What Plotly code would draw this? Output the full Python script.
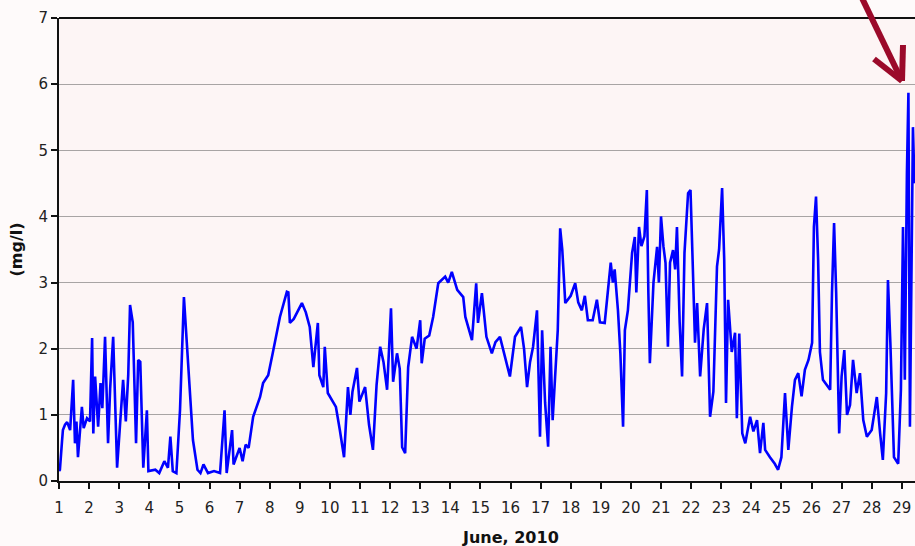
import plotly.graph_objects as go

# ---- data ----
day = [1.00, 1.03, 1.10, 1.13, 1.20, 1.27, 1.37, 1.47, 1.53, 1.58, 1.63, 1.70, 1.76, 1.82, 1.93,
       2.03, 2.10, 2.14, 2.20, 2.30, 2.38, 2.44, 2.53, 2.63, 2.70, 2.80, 2.93,
       3.02, 3.13, 3.22, 3.30, 3.36, 3.45, 3.56, 3.63, 3.70, 3.80, 3.92, 3.97,
       4.20, 4.33, 4.50, 4.62, 4.70, 4.78, 4.90, 5.02, 5.15, 5.25, 5.35, 5.45, 5.60, 5.70, 5.80, 5.95,
       6.15, 6.35, 6.50, 6.57, 6.75, 6.80, 7.00, 7.10, 7.20, 7.30, 7.45, 7.55, 7.68, 7.78, 7.95,
       8.10, 8.34, 8.57, 8.62, 8.67, 8.80, 9.07, 9.20, 9.33, 9.45, 9.60, 9.65, 9.78, 9.83, 9.93,
       10.10, 10.20, 10.33, 10.47, 10.60, 10.68, 10.75, 10.90, 10.98,
       11.17, 11.30, 11.43, 11.55, 11.67, 11.78, 11.90, 12.03, 12.10, 12.23, 12.32, 12.40, 12.50,
       12.60, 12.73, 12.88, 13.00, 13.05, 13.15, 13.30, 13.43, 13.60, 13.83, 13.93,
       14.05, 14.23, 14.43, 14.50, 14.72, 14.86, 14.92, 15.05, 15.20, 15.38, 15.50, 15.65, 15.78, 15.98,
       16.15, 16.35, 16.45, 16.55, 16.65, 16.75, 16.88, 16.98, 17.05, 17.15, 17.25, 17.33, 17.40,
       17.57, 17.65, 17.72, 17.82, 18.00, 18.15, 18.25, 18.37, 18.47, 18.57, 18.73, 18.87, 18.97,
       19.13, 19.25, 19.33, 19.40, 19.46, 19.57, 19.65, 19.74, 19.80, 19.90,
       20.04, 20.13, 20.18, 20.27, 20.35, 20.45, 20.53, 20.58, 20.63, 20.75, 20.87, 20.93,
       21.00, 21.08, 21.15, 21.23, 21.30, 21.40, 21.47, 21.53, 21.62, 21.70, 21.78, 21.90, 21.98,
       22.05, 22.13, 22.20, 22.30, 22.42, 22.53, 22.63, 22.74, 22.86, 22.93,
       23.03, 23.10, 23.16, 23.23, 23.35, 23.46, 23.52, 23.60, 23.70, 23.80, 23.96,
       24.07, 24.19, 24.29, 24.40, 24.46, 24.62, 24.78, 24.89,
       25.00, 25.12, 25.23, 25.35, 25.45, 25.56, 25.67, 25.78, 25.90,
       26.02, 26.08, 26.15, 26.22, 26.28, 26.38, 26.62, 26.68, 26.75, 26.82, 26.92,
       27.00, 27.09, 27.18, 27.28, 27.38, 27.50, 27.61, 27.72, 27.84,
       28.00, 28.17, 28.28, 28.37, 28.48, 28.54, 28.62, 28.74, 28.88, 28.97,
       29.04, 29.10, 29.17, 29.22, 29.27, 29.37, 29.42]

do_mgl = [0.15, 0.17, 0.60, 0.77, 0.85, 0.89, 0.77, 1.53, 0.57, 0.90, 0.36, 0.85, 1.12, 0.80, 0.95,
          0.90, 2.16, 0.72, 1.58, 0.82, 1.48, 1.10, 2.18, 0.57, 1.40, 2.18, 0.20,
          0.80, 1.53, 0.90, 1.60, 2.66, 2.40, 0.57, 1.83, 1.80, 0.20, 1.07, 0.15,
          0.17, 0.12, 0.30, 0.20, 0.67, 0.15, 0.12, 1.07, 2.78, 2.03, 1.20, 0.62, 0.17, 0.12, 0.25, 0.12,
          0.15, 0.12, 1.07, 0.12, 0.77, 0.25, 0.50, 0.30, 0.55, 0.50, 0.97, 1.10, 1.27, 1.48, 1.60,
          1.93, 2.48, 2.86, 2.85, 2.39, 2.45, 2.69, 2.55, 2.33, 1.72, 2.39, 1.60, 1.42, 2.03, 1.33,
          1.20, 1.12, 0.77, 0.36, 1.42, 1.00, 1.35, 1.71, 1.20,
          1.42, 0.85, 0.47, 1.45, 2.03, 1.80, 1.38, 2.61, 1.50, 1.93, 1.70, 0.51, 0.42,
          1.72, 2.18, 2.00, 2.43, 1.78, 2.15, 2.20, 2.48, 2.99, 3.09, 3.00,
          3.16, 2.89, 2.78, 2.48, 2.13, 2.99, 2.39, 2.84, 2.18, 1.93, 2.10, 2.18, 1.93, 1.58,
          2.18, 2.33, 2.00, 1.42, 1.80, 2.03, 2.58, 0.67, 2.28, 1.18, 0.52, 2.03, 0.92,
          2.28, 3.82, 3.50, 2.69, 2.80, 2.99, 2.70, 2.58, 2.80, 2.43, 2.43, 2.74, 2.40,
          2.39, 2.89, 3.30, 3.00, 3.20, 2.58, 1.93, 0.82, 2.28, 2.58,
          3.45, 3.69, 2.85, 3.84, 3.55, 3.70, 4.40, 2.85, 1.78, 3.00, 3.54, 3.00,
          4.00, 3.55, 3.30, 2.03, 3.30, 3.49, 3.20, 3.84, 2.40, 1.58, 3.45, 4.35, 4.40,
          3.34, 2.09, 2.69, 1.58, 2.30, 2.69, 0.97, 1.35, 3.24, 3.50,
          4.43, 3.35, 1.18, 2.74, 1.95, 2.24, 0.95, 2.23, 0.72, 0.57, 0.97,
          0.75, 0.92, 0.42, 0.88, 0.47, 0.36, 0.26, 0.17,
          0.36, 1.33, 0.47, 1.12, 1.53, 1.63, 1.28, 1.68, 1.83,
          2.09, 3.84, 4.30, 3.34, 1.95, 1.53, 1.38, 2.84, 3.90, 2.84, 0.72,
          1.58, 1.98, 1.00, 1.15, 1.83, 1.33, 1.63, 0.92, 0.67,
          0.77, 1.27, 0.72, 0.32, 1.33, 3.04, 2.09, 0.36, 0.26, 1.38,
          3.84, 1.53, 4.66, 5.87, 0.82, 5.35, 4.50]

x_ticks = list(range(1, 30))
x_tick_labels = [str(d) for d in x_ticks]
y_ticks = list(range(0, 8))
y_tick_labels = [str(v) for v in y_ticks]

W, H = 915, 546
ML, MR, MT, MB = 59, 0, 18, 65

fig = go.Figure()
fig.add_trace(go.Scatter(x=day, y=do_mgl, mode="lines",
                         line=dict(color="#0000ff", width=2.6), hoverinfo="skip"))

tick_font = dict(family="DejaVu Sans, Verdana, sans-serif", size=15, color="#222222")
title_font = dict(family="DejaVu Sans, Verdana, sans-serif", size=16, color="#111111")

fig.update_layout(
    width=W, height=H,
    margin=dict(l=ML, r=MR, t=MT, b=MB),
    paper_bgcolor="#fefafa",
    plot_bgcolor="#fdf5f5",
    showlegend=False,
    xaxis=dict(range=[1, 1 + (W - ML) / 30.1], tickvals=x_ticks, ticktext=x_tick_labels,
               ticks="outside", ticklen=6, tickwidth=1.5, tickcolor="#111111",
               ticklabelstandoff=6,
               showgrid=False, zeroline=False, showline=True, linecolor="#111111", linewidth=2,
               tickfont=tick_font, fixedrange=True),
    yaxis=dict(range=[0, 7], tickvals=y_ticks, ticktext=y_tick_labels,
               ticks="outside", ticklen=6, tickwidth=1.5, tickcolor="#111111",
               showgrid=True, gridcolor="#a8a4a4", gridwidth=1, zeroline=False,
               showline=True, linecolor="#111111", linewidth=2,
               tickfont=tick_font, fixedrange=True,
               title=dict(text="<b>(mg/l)</b>", standoff=12, font=title_font)),
)

# top border line of plot
fig.add_shape(type="line", xref="paper", yref="paper", x0=0, x1=1, y0=1, y1=1,
              line=dict(color="#111111", width=2))

# x axis title (sits right of plot centre in the original, plot is cropped)
fig.add_annotation(text="<b>June, 2010</b>", xref="paper", yref="paper",
                   x=(510 - ML) / (W - ML), y=-(537 - (H - MB)) / (H - MT - MB),
                   xanchor="center", yanchor="middle", showarrow=False, font=title_font)

# dark red arrow pointing to the peak (drawn in pixel-based paper coords)
def px2paper(px, py):
    return (px - ML) / (W - ML - MR), 1 - (py - MT) / (H - MT - MB)

arrow_col = "#9b0a2a"
tip = px2paper(902, 81)
for start in [(861, -4), (874, 59), (903, 45)]:
    s = px2paper(*start)
    fig.add_shape(type="line", xref="paper", yref="paper",
                  x0=s[0], y0=s[1], x1=tip[0], y1=tip[1],
                  line=dict(color=arrow_col, width=6))

fig.write_html("out.html", config={"displayModeBar": False},
               post_script="document.body.style.margin='0px';document.body.style.overflow='hidden';")
